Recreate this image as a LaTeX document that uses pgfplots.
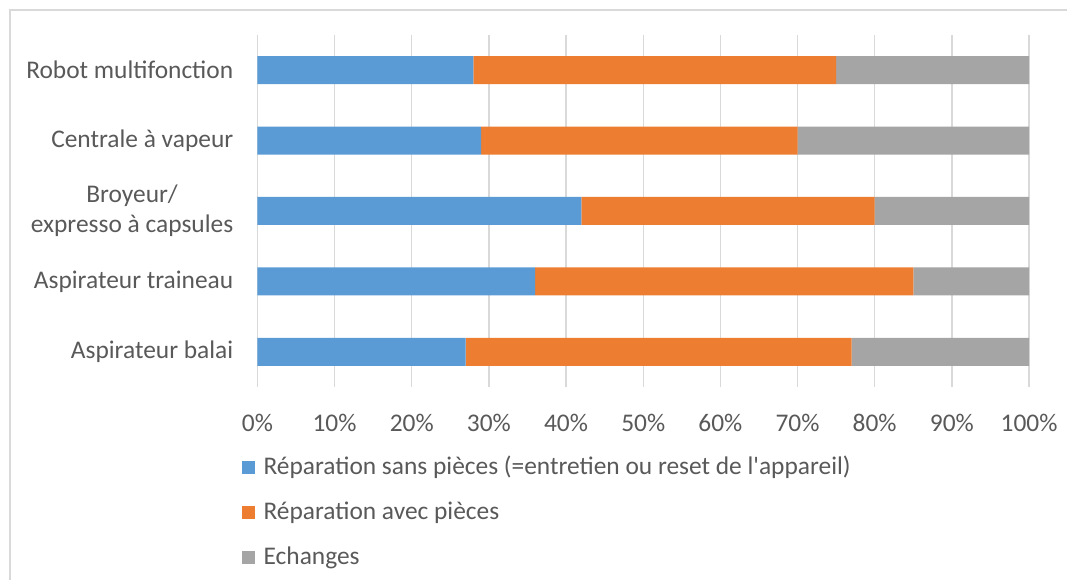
\documentclass[border=0pt]{standalone}
\usepackage{pgfplots}
\pgfplotsset{compat=1.18}
\usepackage{fontspec}
\setmainfont{Carlito}
\definecolor{cblue}{HTML}{5B9BD5}
\definecolor{corange}{HTML}{ED7D31}
\definecolor{cgrey}{HTML}{A5A5A5}
\definecolor{cgrid}{HTML}{D9D9D9}
\definecolor{ctext}{HTML}{595959}
\begin{document}
\begin{tikzpicture}[x=1bp,y=1bp]
\useasboundingbox (0,0) rectangle (1067,580);
\draw[cgrid, line width=1.2bp] (10,0) -- (10,570) -- (1067,570);
\begin{axis}[
  at={(257.4bp,193bp)}, anchor=south west,
  width=771.6bp, height=352bp, scale only axis,
  xbar stacked, bar width=28bp,
  xmin=0, xmax=100, ymin=-0.5, ymax=4.5,
  xtick={0,10,...,100},
  xticklabel={\pgfmathprintnumber{\tick}\%},
  ytick={0,1,2,3,4},
  yticklabels={Aspirateur balai, Aspirateur traineau, {Broyeur/\\expresso à capsules}, Centrale à vapeur, Robot multifonction},
  yticklabel style={align=center, font=\fontsize{25.5}{30}\selectfont, text=ctext, inner sep=0pt, xshift=-24bp},
  xticklabel style={font=\fontsize{25.5}{30}\selectfont, text=ctext, inner sep=0pt, yshift=-27bp},
  /pgf/number format/assume math mode=true,
  major tick length=0pt,
  xmajorgrids, grid style={cgrid, line width=1.4bp},
  axis x line*=bottom, x axis line style={draw=none},
  axis y line*=left, y axis line style={draw=cgrid, line width=1.4bp},
  area legend,
  legend image code/.code={\fill[#1] (0bp,-6.5bp) rectangle (13bp,6.5bp); \path (21bp,0bp);},
  legend style={at={(0,0)}, anchor=north west, xshift=-16bp, yshift=-68bp, draw=none, fill=none,
    font=\fontsize{25.5}{30}\selectfont, text=ctext, row sep=20bp, inner sep=0pt,
    legend cell align=left, nodes={inner sep=1bp, text height=18bp, text depth=5bp}},
]
\addplot[fill=cblue, draw=none] coordinates {(27,0) (36,1) (42,2) (29,3) (28,4)};
\addplot[fill=corange, draw=none] coordinates {(50,0) (49,1) (38,2) (41,3) (47,4)};
\addplot[fill=cgrey, draw=none] coordinates {(23,0) (15,1) (20,2) (30,3) (25,4)};
\legend{Réparation sans pièces (=entretien ou reset de l\textquotesingle appareil), Réparation avec pièces, Echanges}
\end{axis}
\end{tikzpicture}
\end{document}
